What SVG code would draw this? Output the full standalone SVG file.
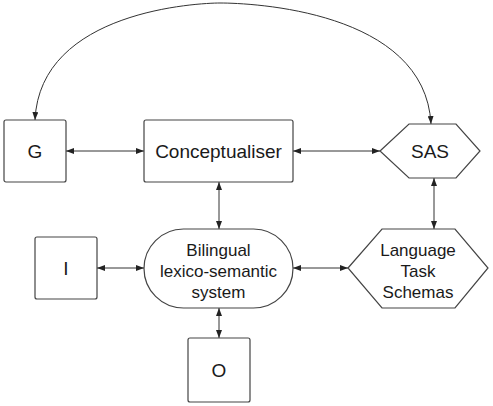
<svg xmlns="http://www.w3.org/2000/svg" width="493" height="406" viewBox="0 0 493 406">
<style>
.n{fill:#fff;stroke:#444;stroke-width:1.2}
.t{font-family:"Liberation Sans",Arial,sans-serif;fill:#1a1a1a;text-anchor:middle}
.b{font-size:19px}
.s{font-size:17px}
.c{fill:none;stroke:#333;stroke-width:1;marker-start:url(#a);marker-end:url(#a)}
</style>
<defs>
<marker id="a" viewBox="0 0 8 6" refX="8" refY="3" markerWidth="8" markerHeight="6" orient="auto-start-reverse" markerUnits="userSpaceOnUse">
<path d="M0,0 L8,3 L0,6 z" fill="#222"/>
</marker>
</defs>
<g id="connectors">
<path class="c" d="M35,120 C40,10 200,3 220,3 C250,3 425,10 431,124"/>
<line class="c" x1="66" y1="151" x2="144" y2="151"/>
<line class="c" x1="293" y1="151" x2="380" y2="151"/>
<line class="c" x1="219" y1="182" x2="219" y2="229"/>
<line class="c" x1="434" y1="178" x2="434" y2="229"/>
<line class="c" x1="97" y1="268" x2="144" y2="268"/>
<line class="c" x1="293" y1="268" x2="348" y2="268"/>
<line class="c" x1="219" y1="308" x2="219" y2="338"/>
</g>
<g id="G">
<rect class="n" x="4" y="120" width="62" height="62" rx="2"/>
<text class="t b" x="35" y="158">G</text>
</g>
<g id="Conceptualiser">
<rect class="n" x="144" y="120" width="149" height="62" rx="2"/>
<text class="t b" x="218.5" y="158">Conceptualiser</text>
</g>
<g id="SAS">
<polygon class="n" points="380,151 409,124 456,124 480,151 456,178 409,178"/>
<text class="t b" x="430" y="158">SAS</text>
</g>
<g id="I">
<rect class="n" x="35" y="237" width="62" height="62" rx="2"/>
<text class="t b" x="66" y="275">I</text>
</g>
<g id="Bilingual">
<rect class="n" x="144" y="229" width="149" height="79" rx="39.5"/>
<text class="t s" x="218.5" y="256">Bilingual</text>
<text class="t s" x="218.5" y="277">lexico-semantic</text>
<text class="t s" x="218.5" y="298">system</text>
</g>
<g id="LTS">
<polygon class="n" points="348,268 382,229 455,229 488,268 455,308 382,308"/>
<text class="t s" x="418" y="256">Language</text>
<text class="t s" x="418" y="277">Task</text>
<text class="t s" x="418" y="298">Schemas</text>
</g>
<g id="O">
<rect class="n" x="188" y="338" width="62" height="64" rx="2"/>
<text class="t b" x="219" y="377">O</text>
</g>
</svg>
